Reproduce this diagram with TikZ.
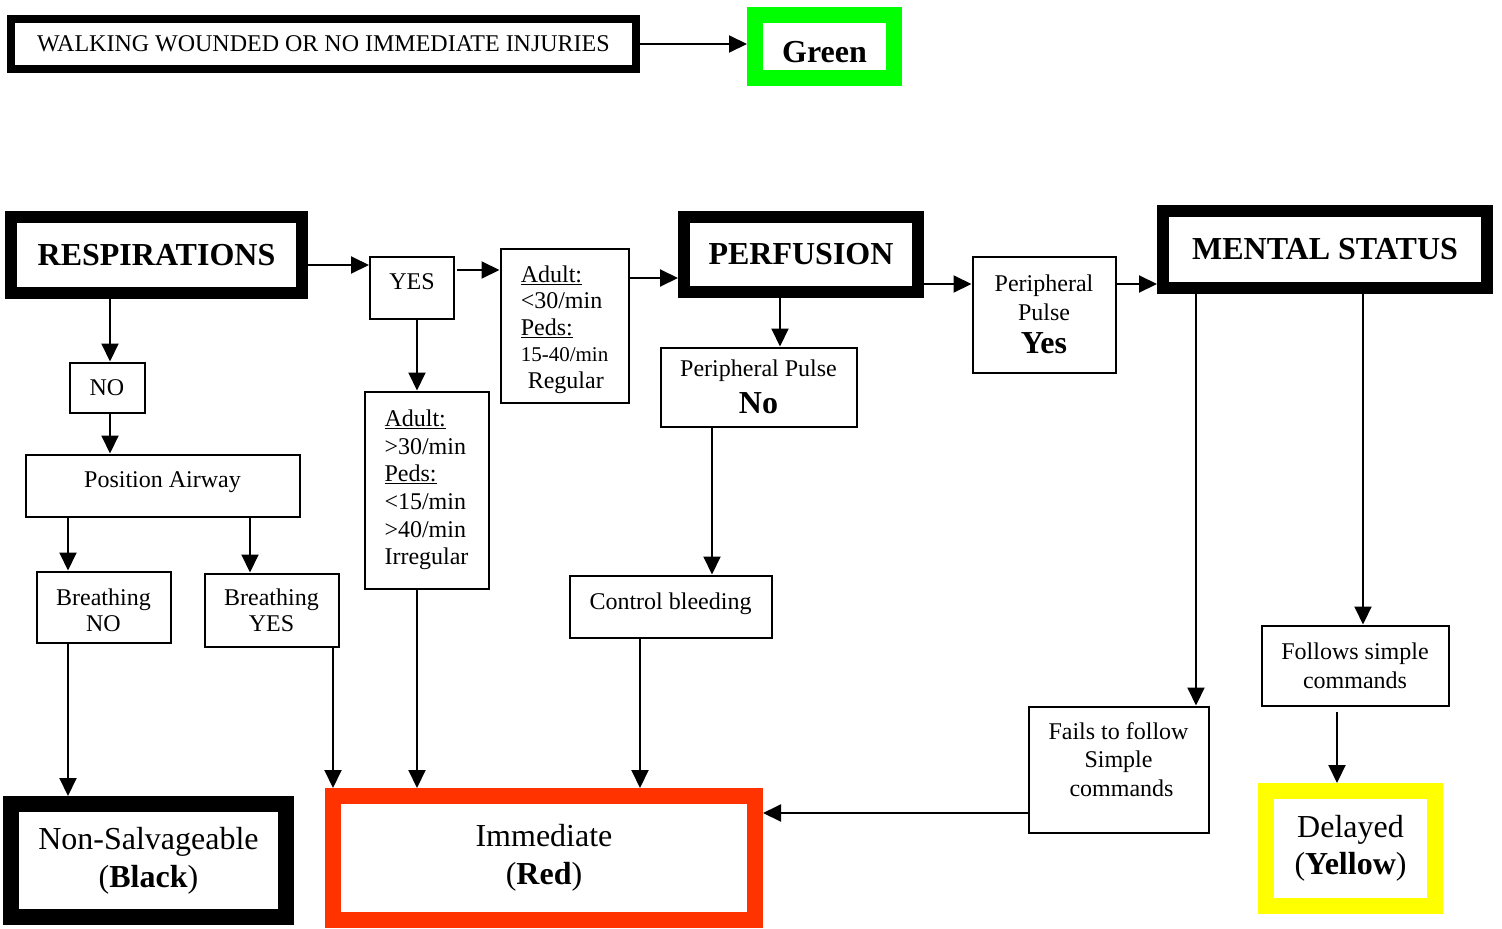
\documentclass[tikz,border=0pt]{standalone}
\usepackage{fontspec}
\setmainfont{Liberation Serif}
\usetikzlibrary{arrows.meta}

\definecolor{tgreen}{RGB}{0,255,0}
\definecolor{tred}{RGB}{255,51,0}
\definecolor{tyellow}{RGB}{255,255,0}

\begin{document}
\begin{tikzpicture}[x=1pt, y=-1pt,
  box/.style={draw, line width=2pt, inner sep=0pt, align=center, font=\fontsize{24}{28}\selectfont},
  heavy/.style={draw, line width=12pt, inner sep=0pt, font=\fontsize{32}{38}\selectfont\bfseries},
  tag/.style={draw=#1, line width=16pt, inner sep=0pt, align=center, font=\fontsize{32}{38}\selectfont},
  arr/.style={line width=2pt, -{Triangle[length=18pt,width=17pt]}}]

\useasboundingbox (0,0) rectangle (1502,929);

% Top row
\node [draw, line width=8pt, inner sep=0pt, minimum width=625pt, minimum height=50pt,
       font=\fontsize{24}{28}\selectfont] (walk) at (323.5,44) {WALKING WOUNDED OR NO IMMEDIATE INJURIES};
\node [tag=tgreen, minimum width=139pt, minimum height=63pt, font=\fontsize{32}{38}\selectfont\bfseries,
       text height=31pt, text depth=0pt] (green) at (824.5,46.5) {Green};

\draw [arr] (walk.east) -- (walk.east -| green.west);

% Main headers
\node [heavy, minimum width=291pt, minimum height=76pt] (resp) at (156.5,255) {RESPIRATIONS};
\node [heavy, minimum width=234pt, minimum height=75pt] (perf) at (801,254.5) {PERFUSION};
\node [heavy, minimum width=324pt, minimum height=77pt] (ms)   at (1325,249.5) {MENTAL STATUS};

% Respirations branch
\node [box, minimum width=84pt, minimum height=62pt] (yes) at (412,288) {\rule[-12pt]{0pt}{0pt}YES};
\node [box, minimum width=128pt, minimum height=154pt, align=left, font=\fontsize{24}{26.5}\selectfont] (ad1) at (564.5,325.5)
  {\rule{0pt}{24.5pt}\underline{Adult:}\\<30/min\\\underline{Peds:}\\{\fontsize{21}{26.5}\selectfont 15-40/min}\\\hspace*{7pt}Regular};
\node [box, minimum width=124pt, minimum height=197pt, align=left, font=\fontsize{24}{27.6}\selectfont] (ad2) at (426.5,490)
  {\underline{Adult:}\\>30/min\\\underline{Peds:}\\<15/min\\>40/min\\Irregular};
\node [box, minimum width=75pt, minimum height=50pt] (no) at (107,387.5) {NO};
\node [box, minimum width=274pt, minimum height=62pt] (pa) at (162.5,485.5) {Position Airway\rule[-11pt]{0pt}{0pt}};
\node [box, minimum width=134pt, minimum height=71pt, font=\fontsize{24}{26}\selectfont] (brno) at (103.5,607)
  {\rule{0pt}{22.5pt}Breathing\\NO};
\node [box, minimum width=134pt, minimum height=73pt, font=\fontsize{24}{26}\selectfont] (bryes) at (271.5,610) {Breathing\\YES};

% Perfusion branch
\node [box, minimum width=143pt, minimum height=116pt, font=\fontsize{24}{29}\selectfont] (ppyes) at (1044,314.5)
  {Peripheral\\Pulse\\[4pt]{\fontsize{32}{38}\selectfont\bfseries Yes}};
\node [box, minimum width=196pt, minimum height=79pt] (ppno) at (758.5,387)
  {Peripheral Pulse\\[9pt]{\fontsize{32}{38}\selectfont\bfseries No}};
\node [box, minimum width=202pt, minimum height=62pt] (ctrl) at (670.5,606.5) {Control bleeding\rule[-11pt]{0pt}{0pt}};

% Mental status branch
\node [box, minimum width=180pt, minimum height=126pt, font=\fontsize{24}{28.5}\selectfont] (fails) at (1118.5,769.5)
  {Fails to follow\\Simple\\\ commands\rule[-20pt]{0pt}{0pt}};
\node [box, minimum width=187pt, minimum height=80pt, font=\fontsize{24}{29}\selectfont] (follows) at (1355,665.5)
  {Follows simple\\commands};

% Outcomes
\node [tag=black, minimum width=275pt, minimum height=113pt] (nonsalv) at (148.5,860.5) {Non-Salvageable\\(\textbf{Black})};
\node [tag=tred, minimum width=422pt, minimum height=124pt] (imm) at (544,858) {Immediate\\(\textbf{Red})};
\node [tag=tyellow, minimum width=169pt, minimum height=115pt, font=\fontsize{32}{37}\selectfont] (delayed) at (1350.5,848.5) {Delayed\\(\textbf{Yellow})};

% Across
\draw [arr] ([yshift=-10pt]resp.east) -- ([yshift=-10pt]resp.east -| yes.west);
\draw [arr] ([xshift=2pt,yshift=18pt]yes.east) -- ([yshift=18pt]yes.east -| ad1.west);
\draw [arr] ([yshift=-23.5pt]perf.west -| ad1.east) -- ([yshift=-23.5pt]perf.west);
\draw [arr] ([yshift=-29.5pt]perf.east) -- ([yshift=-29.5pt]perf.east -| ppyes.west);
\draw [arr] ([yshift=-34.5pt]ms.west -| ppyes.east) -- ([yshift=-34.5pt]ms.west);
\draw [arr] ([yshift=-43.5pt]fails.west) -- ([yshift=-43.5pt]fails.west -| imm.east);

% Down
\draw [arr] ([xshift=3pt]no.north |- resp.south) -- ([xshift=3pt]no.north);
\draw [arr] ([xshift=3pt]no.south) -- ([xshift=3pt]no.south |- pa.north);
\draw [arr] ([xshift=-35.5pt]brno.north |- pa.south) -- ([xshift=-35.5pt]brno.north);
\draw [arr] ([xshift=-21.5pt]bryes.north |- pa.south) -- ([xshift=-21.5pt]bryes.north);
\draw [arr] ([xshift=-35.5pt]brno.south) -- ([xshift=-35.5pt]brno.south |- nonsalv.north);
\draw [arr] ([xshift=61.5pt]bryes.south) -- ([xshift=61.5pt]bryes.south |- imm.north);
\draw [arr] ([xshift=5pt]yes.south) -- ([xshift=5pt]yes.south |- ad2.north);
\draw [arr] ([xshift=-9.5pt]ad2.south) -- ([xshift=-9.5pt]ad2.south |- imm.north);
\draw [arr] ([xshift=-21pt]perf.south) -- ([xshift=-21pt]perf.south |- ppno.north);
\draw [arr] ([xshift=-46.5pt]ppno.south) -- ([xshift=-46.5pt]ppno.south |- ctrl.north);
\draw [arr] ([xshift=-30.5pt]ctrl.south) -- ([xshift=-30.5pt]ctrl.south |- imm.north);
\draw [arr] ([xshift=77.5pt,yshift=12pt]fails.north |- ms.south) -- ([xshift=77.5pt]fails.north);
\draw [arr] ([xshift=8pt]follows.north |- ms.south) -- ([xshift=8pt]follows.north);
\draw [arr] ([xshift=-18pt,yshift=-5pt]follows.south) -- ([xshift=-18pt]follows.south |- delayed.north);

\end{tikzpicture}
\end{document}
